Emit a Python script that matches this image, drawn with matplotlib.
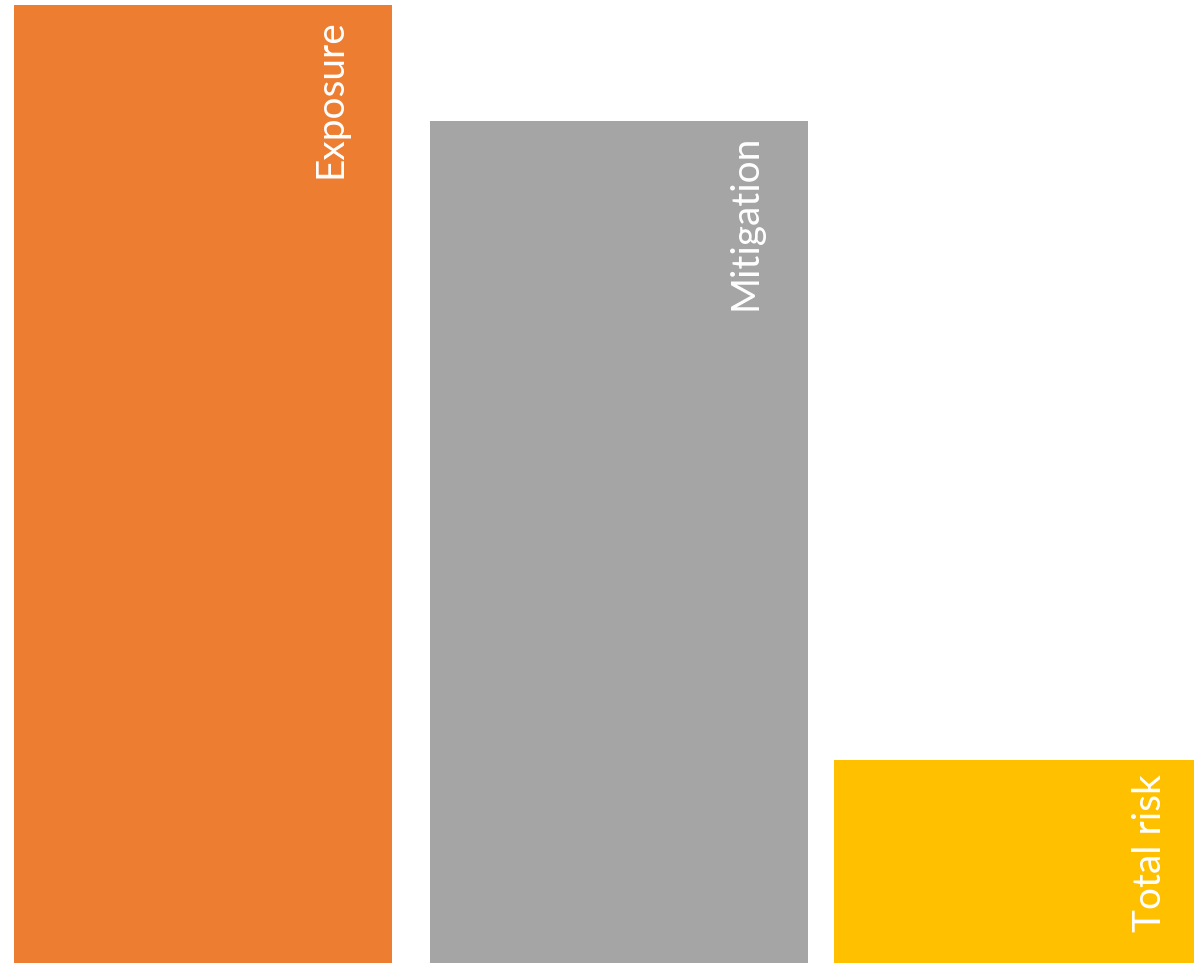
import matplotlib
matplotlib.use("Agg")
import matplotlib.pyplot as plt

categories = ["Exposure", "Mitigation", "Total risk"]
values = [100.0, 87.9, 21.2]
colors = ["#ED7D31", "#A5A5A5", "#FFC000"]
widths = [0.91, 0.91, 0.963]

W, H, DPI = 1194, 965, 100
fig = plt.figure(figsize=(W / DPI, H / DPI), dpi=DPI)
ax = fig.add_axes([0, 2 / H, 1, 1 - 2 / H])

pos = list(range(len(categories)))
bars = ax.bar(pos, values, width=widths, color=colors, linewidth=0)

unit_px = 415.5
left = -widths[0] / 2 - 14 / unit_px
ax.set_xlim(left, left + W / unit_px)
ax.set_ylim(0, values[0] * 963 / 958)
ax.axis("off")

for b, name in zip(bars, categories):
    ax.annotate(name, xy=(b.get_x(), b.get_height()),
                xytext=(334, -14), textcoords="offset pixels",
                rotation=90, ha="right", va="top", color="white",
                fontsize=28, family=["Lato", "DejaVu Sans"],
                annotation_clip=False)

fig.savefig("out.png", dpi=DPI)
